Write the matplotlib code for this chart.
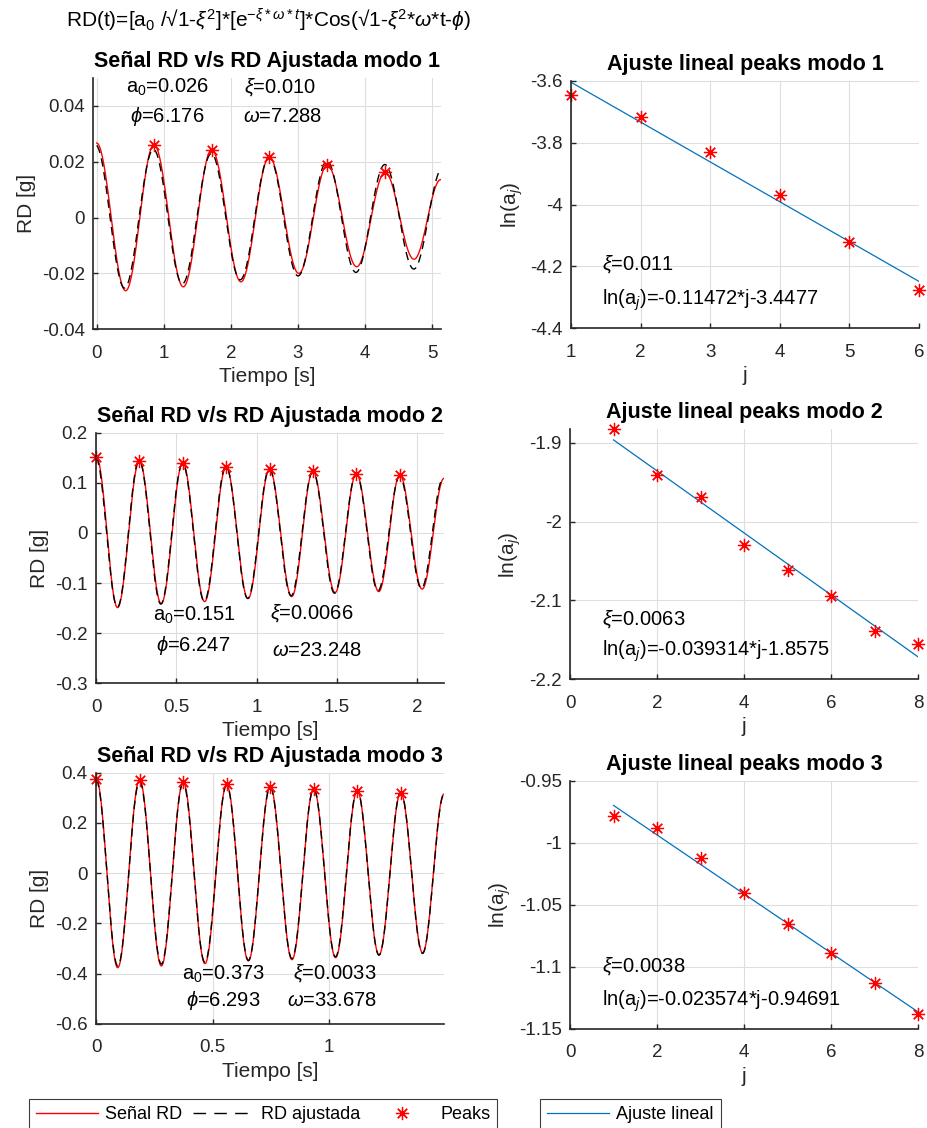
import numpy as np
import matplotlib
matplotlib.use("Agg")
import matplotlib.pyplot as plt
from matplotlib.lines import Line2D
from matplotlib.ticker import FixedLocator, FuncFormatter

plt.rcParams['font.family'] = ['Liberation Sans', 'DejaVu Sans']
plt.rcParams['mathtext.fontset'] = 'custom'
plt.rcParams['mathtext.rm'] = 'Liberation Sans'
plt.rcParams['mathtext.it'] = 'Liberation Sans:italic'
plt.rcParams['mathtext.bf'] = 'Liberation Sans:bold'

# ---------------- measured response (turning points of the RD signal) ----------------
# mode 1
m1_peak_t = [0.854, 1.714, 2.572, 3.437, 4.297, 5.160]
m1_peak_a = [0.0261, 0.0243, 0.0217, 0.0189, 0.0162, 0.0139]
m1_trough_t = [0.432, 1.291, 2.150, 3.013, 3.875, 4.729]
m1_trough_a = [-0.0262, -0.0248, -0.0230, -0.0200, -0.0176, -0.0149]
m1_ends_t = [0.0, 5.127]
m1_ends_a = [0.0267, 0.0136]

# mode 2
m2_peak_t = [0.002, 0.270, 0.540, 0.810, 1.080, 1.350, 1.620, 1.891]
m2_peak_a = [0.1521, 0.1436, 0.1397, 0.1313, 0.1272, 0.1231, 0.1178, 0.1159]
m2_trough_t = [0.134, 0.406, 0.676, 0.946, 1.218, 1.488, 1.760, 2.030]
m2_trough_a = [-0.149, -0.141, -0.137, -0.131, -0.127, -0.119, -0.117, -0.112]
m2_ends_t = [0.0, 2.166]
m2_ends_a = [0.1520, 0.109]

# mode 3
m3_peak_t = [0.001, 0.187, 0.374, 0.560, 0.747, 0.933, 1.120, 1.306]
m3_peak_a = [0.3759, 0.3722, 0.3633, 0.3533, 0.3445, 0.3365, 0.3285, 0.3203]
m3_trough_t = [0.093, 0.280, 0.467, 0.653, 0.840, 1.027, 1.213, 1.400]
m3_trough_a = [-0.376, -0.369, -0.360, -0.349, -0.344, -0.336, -0.325, -0.317]
m3_ends_t = [0.0, 1.4916]
m3_ends_a = [0.3758, 0.315]

# ---------------- fitted parameters ----------------
fit_a0 = [0.026, 0.151, 0.373]
fit_xi = [0.010, 0.0066, 0.0033]
fit_xi_dec = [3, 4, 4]
fit_omega = [7.288, 23.248, 33.678]
fit_phi = [6.176, 6.247, 6.293]

# damping from the log-decrement regression (printed values)
reg_xi = ['0.011', '0.0063', '0.0038']
reg_eq = ['-0.11472*j-3.4477', '-0.039314*j-1.8575', '-0.023574*j-0.94691']

modes = [
    (m1_peak_t, m1_peak_a, m1_trough_t, m1_trough_a, m1_ends_t, m1_ends_a),
    (m2_peak_t, m2_peak_a, m2_trough_t, m2_trough_a, m2_ends_t, m2_ends_a),
    (m3_peak_t, m3_peak_a, m3_trough_t, m3_trough_a, m3_ends_t, m3_ends_a),
]

# ---------------- layout (figure pixels) ----------------
W, H = 927, 1128
left_boxes = [(93.3, 78.0, 440.7, 329.3), (96.0, 432.7, 444.0, 683.3), (96.0, 772.7, 444.0, 1024.0)]
right_boxes = [(571.0, 80.7, 919.0, 328.3), (570.0, 429.3, 918.3, 679.3), (570.0, 780.7, 918.3, 1028.7)]
left_xlim = [(-0.05, 5.127), (0.0, 2.166), (0.0, 1.4916)]
left_ylim = [(-0.04, 0.05), (-0.3, 0.2), (-0.6, 0.4)]
left_xticks = [np.arange(0, 6), np.arange(0, 2.01, 0.5), np.arange(0, 1.01, 0.5)]
left_yticks = [np.arange(-0.04, 0.041, 0.02), np.arange(-0.3, 0.21, 0.1), np.arange(-0.6, 0.41, 0.2)]
right_xlim = [(1, 6), (0, 8), (0, 8)]
right_ylim = [(-4.4, -3.6), (-2.2, -1.883), (-1.15, -0.95)]
right_xticks = [np.arange(1, 7), np.arange(0, 9, 2), np.arange(0, 9, 2)]
right_yticks = [np.arange(-4.4, -3.59, 0.2), np.arange(-2.2, -1.89, 0.1), np.arange(-1.15, -0.949, 0.05)]

# annotation anchors (data coords)
left_txt = [
    [(0.437, 0.0466), (2.195, 0.0466), (0.496, 0.0362), (2.18, 0.0362)],
    [(0.353, -0.1646), (1.083, -0.161), (0.373, -0.2246), (1.095, -0.2346)],
    [(0.367, -0.4024), (0.846, -0.4024), (0.386, -0.5064), (0.820, -0.5064)],
]
right_txt = [[(1.44, -4.195), (1.44, -4.309)],
             [(0.73, -2.1248), (0.73, -2.165)],
             [(0.73, -1.100), (0.73, -1.128)]]

RED = '#ff0000'
BLUE = '#0072bd'
AX = '#262626'
TICK_FS = 13.5
TXT_FS = 14.5
LAB_FS = 15
TITLE_FS = 15.5
DASH = (0, (6, 4))
fmt = FuncFormatter(lambda v, p: f"{round(v, 6) + 0.0:g}")


def box_to_rect(b):
    x0, y0, x1, y1 = b
    return [x0 / W, 1 - y1 / H, (x1 - x0) / W, (y1 - y0) / H]


def style(ax, xticks, yticks):
    for s in ('top', 'right'):
        ax.spines[s].set_visible(False)
    for s in ('left', 'bottom'):
        ax.spines[s].set_color(AX)
        ax.spines[s].set_linewidth(1.2)
    ax.grid(True, color='#dedede', linewidth=0.8)
    ax.set_axisbelow(True)
    ax.tick_params(direction='in', length=3.5, width=1.0, color=AX, labelcolor=AX,
                   labelsize=TICK_FS)
    ax.tick_params(axis='x', pad=11)
    ax.tick_params(axis='y', pad=6)
    ax.xaxis.set_major_locator(FixedLocator(xticks))
    ax.yaxis.set_major_locator(FixedLocator(yticks))
    ax.xaxis.set_major_formatter(fmt)
    ax.yaxis.set_major_formatter(fmt)


def turning_curve(t_nodes, v_nodes, n=40):
    ts, vs = [], []
    for i in range(len(t_nodes) - 1):
        s = np.linspace(0.0, 1.0, n, endpoint=False)
        ts.append(t_nodes[i] + (t_nodes[i + 1] - t_nodes[i]) * s)
        vs.append(0.5 * (v_nodes[i] + v_nodes[i + 1]) + 0.5 * (v_nodes[i] - v_nodes[i + 1]) * np.cos(np.pi * s))
    ts.append([t_nodes[-1]])
    vs.append([v_nodes[-1]])
    return np.concatenate(ts), np.concatenate(vs)


fig = plt.figure(figsize=(W / 100, H / 100), dpi=100)

star = dict(marker=(8, 2, 0), color=RED, markersize=9.5, markeredgewidth=0.9, linestyle='none')

for k, (pk_t, pk_a, tr_t, tr_a, e_t, e_a) in enumerate(modes):
    # ---------- signal vs fitted ----------
    ax = fig.add_axes(box_to_rect(left_boxes[k]))
    style(ax, left_xticks[k], left_yticks[k])
    t0, t1 = e_t
    nodes = sorted([(e_t[0], e_a[0]), (e_t[1], e_a[1])]
                   + [(t, a) for t, a in zip(pk_t, pk_a) if t0 < t < t1]
                   + list(zip(tr_t, tr_a)))
    st, sv = turning_curve([p[0] for p in nodes], [p[1] for p in nodes])
    ax.plot(st, sv, color=RED, lw=1.0)

    a0, xi, om, ph = fit_a0[k], fit_xi[k], fit_omega[k], fit_phi[k]
    tf = np.linspace(t0, t1, 1500)
    wd = np.sqrt(1 - xi ** 2) * om
    rd = a0 / np.sqrt(1 - xi ** 2) * np.exp(-xi * om * tf) * np.cos(wd * tf - ph)
    ax.plot(tf, rd, color='black', lw=1.0, ls=DASH)

    vis = [(t, a) for t, a in zip(pk_t, pk_a) if left_xlim[k][0] <= t <= left_xlim[k][1]]
    ax.plot([v[0] for v in vis], [v[1] for v in vis], clip_on=False, **star)

    ax.set_xlim(*left_xlim[k])
    ax.set_ylim(*left_ylim[k])
    ax.set_title(f'Señal RD v/s RD Ajustada modo {k + 1}', fontsize=TITLE_FS, fontweight='bold', pad=8)
    ax.set_xlabel('Tiempo [s]', fontsize=LAB_FS, color=AX, labelpad=4)
    ax.set_ylabel('RD [g]', fontsize=LAB_FS, color=AX, labelpad=4)

    labels = [f'a$_0$={a0:.3f}', f'$\\xi$={xi:.{fit_xi_dec[k]}f}',
              f'$\\phi$={ph:.3f}', f'$\\omega$={om:.3f}']
    for (x, y), s in zip(left_txt[k], labels):
        ax.text(x, y, s, fontsize=TXT_FS, ha='left', va='center', color='black')

    # ---------- linear fit of log peaks ----------
    axr = fig.add_axes(box_to_rect(right_boxes[k]))
    style(axr, right_xticks[k], right_yticks[k])
    j = np.arange(1, len(pk_a) + 1)
    lna = np.log(np.array(pk_a))
    coef = np.polyfit(j, lna, 1)
    axr.plot(j, np.polyval(coef, j), color=BLUE, lw=0.9)
    axr.plot(j, lna, clip_on=False, **star)
    axr.set_xlim(*right_xlim[k])
    axr.set_ylim(*right_ylim[k])
    axr.set_title(f'Ajuste lineal peaks modo {k + 1}', fontsize=TITLE_FS, fontweight='bold', pad=8)
    axr.set_xlabel('j', fontsize=LAB_FS, color=AX, labelpad=4)
    axr.set_ylabel('ln(a$_j$)', fontsize=LAB_FS, color=AX, labelpad=4)
    (x1, y1), (x2, y2) = right_txt[k]
    axr.text(x1, y1, f'$\\xi$={reg_xi[k]}', fontsize=TXT_FS, ha='left', va='center')
    axr.text(x2, y2, f'ln(a$_j$)={reg_eq[k]}', fontsize=TXT_FS, ha='left', va='center')

fig.text(269 / W, 1 - 20 / H,
         'RD(t)=[a$_0$ /√1-$\\xi^2$]*[e$^{-\\xi*\\omega*t}$]*Cos(√1-$\\xi^2$*$\\omega$*t-$\\phi$)',
         ha='center', va='center', fontsize=15)

# legends
h_sig = Line2D([], [], color=RED, lw=1.0)
h_fit = Line2D([], [], color='black', lw=1.0, ls=(0, (9, 6)))
h_pk = Line2D([], [], **star)
h_lin = Line2D([], [], color=BLUE, lw=0.9)
leg_kw = dict(loc='upper left', fontsize=13, frameon=True, fancybox=False,
              edgecolor='#3c3c3c', framealpha=1, borderpad=0.4, handlelength=3.4,
              handletextpad=0.4, columnspacing=0.6, borderaxespad=0)
leg1 = fig.legend([h_sig, h_fit, h_pk], ['Señal RD', 'RD ajustada', 'Peaks'], ncol=3,
                  bbox_to_anchor=(29 / W, 1 - 1099 / H), **leg_kw)
leg1.get_frame().set_linewidth(0.8)
leg2 = fig.legend([h_lin], ['Ajuste lineal'], bbox_to_anchor=(540 / W, 1 - 1099 / H), **leg_kw)
leg2.get_frame().set_linewidth(0.8)

fig.savefig('out.png', dpi=100)
